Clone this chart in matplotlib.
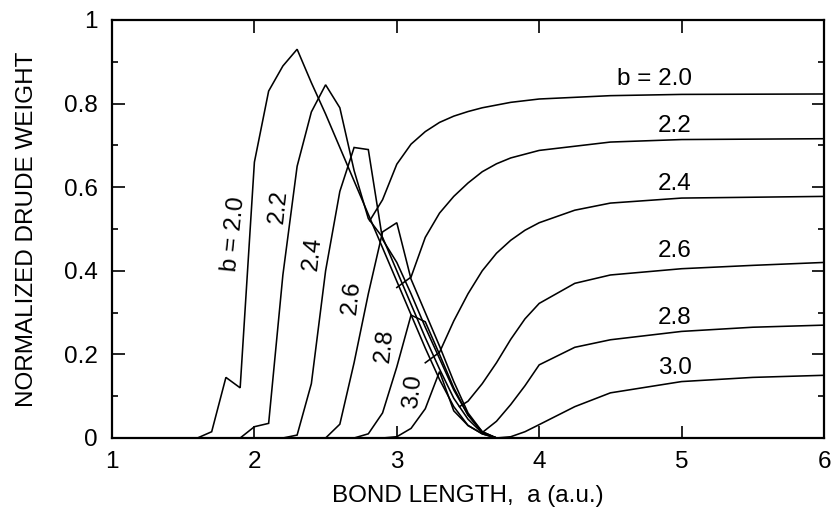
import matplotlib
matplotlib.use("Agg")
import matplotlib.pyplot as plt
from matplotlib.ticker import MultipleLocator

plt.rcParams['font.family'] = ['Liberation Sans', 'DejaVu Sans']

# ---- data: left branches (rise, peak, descent) ----
a_L20 = [1.0, 1.6, 1.7, 1.8, 1.9, 2.0, 2.1, 2.2, 2.3, 2.4, 2.5, 2.6, 2.7, 2.8, 2.9, 3.0, 3.1, 3.2, 3.3, 3.4, 3.5, 3.6, 3.7]
y_L20 = [0.0, 0.0, 0.015, 0.145, 0.12, 0.66, 0.83, 0.89, 0.93, 0.85, 0.775, 0.695, 0.615, 0.535, 0.455, 0.375, 0.295, 0.215, 0.14, 0.075, 0.03, 0.01, 0.0]

a_L22 = [1.0, 1.9, 2.0, 2.1, 2.2, 2.3, 2.4, 2.5, 2.6, 2.7, 2.8, 2.9, 3.0, 3.1, 3.2, 3.3, 3.4, 3.5, 3.6, 3.7]
y_L22 = [0.0, 0.0, 0.027, 0.035, 0.39, 0.65, 0.78, 0.845, 0.79, 0.64, 0.525, 0.48, 0.40, 0.32, 0.24, 0.165, 0.095, 0.045, 0.012, 0.0]

a_L24 = [1.0, 2.2, 2.3, 2.4, 2.5, 2.6, 2.7, 2.8, 2.9, 3.0, 3.1, 3.2, 3.3, 3.4, 3.5, 3.6, 3.7]
y_L24 = [0.0, 0.0, 0.007, 0.13, 0.40, 0.59, 0.695, 0.69, 0.475, 0.42, 0.345, 0.265, 0.19, 0.115, 0.055, 0.015, 0.0]

a_L26 = [1.0, 2.5, 2.6, 2.7, 2.8, 2.9, 3.0, 3.1, 3.2, 3.3, 3.4, 3.5, 3.6, 3.7]
y_L26 = [0.0, 0.0, 0.033, 0.18, 0.345, 0.493, 0.515, 0.38, 0.30, 0.22, 0.135, 0.06, 0.015, 0.0]

a_L28 = [1.0, 2.7, 2.8, 2.9, 3.0, 3.1, 3.2, 3.3, 3.4, 3.5, 3.6, 3.7]
y_L28 = [0.0, 0.0, 0.01, 0.06, 0.17, 0.294, 0.278, 0.20, 0.12, 0.055, 0.013, 0.0]

a_L30 = [1.0, 2.9, 3.0, 3.1, 3.2, 3.3, 3.4, 3.5, 3.6, 3.7]
y_L30 = [0.0, 0.0, 0.003, 0.023, 0.07, 0.159, 0.065, 0.03, 0.01, 0.0]

# ---- data: right branches (rise to plateau) ----
a_R20 = [2.81, 2.9, 3.0, 3.1, 3.2, 3.3, 3.4, 3.5, 3.6, 3.8, 4.0, 4.5, 5.0, 6.0]
y_R20 = [0.52, 0.57, 0.655, 0.703, 0.733, 0.755, 0.770, 0.781, 0.790, 0.803, 0.811, 0.819, 0.822, 0.823]

a_R22 = [3.0, 3.1, 3.2, 3.3, 3.4, 3.5, 3.6, 3.7, 3.8, 4.0, 4.5, 5.0, 6.0]
y_R22 = [0.36, 0.385, 0.48, 0.538, 0.578, 0.610, 0.637, 0.656, 0.670, 0.688, 0.708, 0.714, 0.716]

a_R24 = [3.2, 3.3, 3.4, 3.5, 3.6, 3.7, 3.8, 3.9, 4.0, 4.25, 4.5, 5.0, 6.0]
y_R24 = [0.18, 0.205, 0.28, 0.345, 0.40, 0.442, 0.473, 0.497, 0.515, 0.545, 0.562, 0.574, 0.578]

a_R26 = [3.44, 3.5, 3.6, 3.7, 3.8, 3.9, 4.0, 4.25, 4.5, 5.0, 5.5, 6.0]
y_R26 = [0.075, 0.088, 0.13, 0.18, 0.236, 0.285, 0.322, 0.37, 0.39, 0.405, 0.413, 0.42]

a_R28 = [3.6, 3.7, 3.8, 3.9, 4.0, 4.25, 4.5, 5.0, 5.5, 6.0]
y_R28 = [0.013, 0.04, 0.08, 0.125, 0.175, 0.217, 0.235, 0.255, 0.265, 0.27]

a_R30 = [3.7, 3.8, 3.9, 4.0, 4.25, 4.5, 5.0, 5.5, 6.0]
y_R30 = [0.0, 0.003, 0.015, 0.032, 0.075, 0.108, 0.135, 0.145, 0.15]

left_labels = ["b = 2.0", "2.2", "2.4", "2.6", "2.8", "3.0"]
right_labels = ["b = 2.0", "2.2", "2.4", "2.6", "2.8", "3.0"]
x_ticks = [1, 2, 3, 4, 5, 6]
y_ticks = [0, 0.2, 0.4, 0.6, 0.8, 1]
y_tick_labels = ["0", "0.2", "0.4", "0.6", "0.8", "1"]

left_series = [(a_L20, y_L20), (a_L22, y_L22), (a_L24, y_L24),
               (a_L26, y_L26), (a_L28, y_L28), (a_L30, y_L30)]
right_series = [(a_R20, y_R20), (a_R22, y_R22), (a_R24, y_R24),
                (a_R26, y_R26), (a_R28, y_R28), (a_R30, y_R30)]

# label positions (data coords)
left_label_pos = [(1.857, 0.488), (2.173, 0.553), (2.41, 0.44),
                  (2.685, 0.335), (2.917, 0.222), (3.114, 0.112)]
right_label_pos = [(5.07, 0.859), (5.07, 0.746), (5.07, 0.608),
                   (5.07, 0.447), (5.07, 0.287), (5.07, 0.167)]

fig = plt.figure(figsize=(8.4, 5.16), dpi=100)
ax = fig.add_axes([112/840, 1-438/516, (824-112)/840, (438-20)/516])

for xs, ys in left_series + right_series:
    ax.plot(xs, ys, color='black', lw=1.15, solid_joinstyle='miter')

fs = 17.5
for (x, y), t in zip(left_label_pos, left_labels):
    ax.text(x, y, t, rotation=84, ha='center', va='center', fontsize=fs)
for (x, y), t in zip(right_label_pos, right_labels):
    ax.text(x, y, t, ha='right', va='center', fontsize=fs)

ax.set_xlim(1, 6)
ax.set_ylim(0, 1)
ax.set_xticks(x_ticks)
ax.set_xticklabels([str(v) for v in x_ticks])
ax.set_yticks(y_ticks)
ax.set_yticklabels(y_tick_labels)
ax.yaxis.set_minor_locator(MultipleLocator(0.1))
ax.tick_params(which='both', direction='in', top=True, right=True,
               labelsize=fs, width=1.2)
ax.tick_params(axis='x', which='major', length=9, pad=9)
ax.tick_params(axis='y', which='major', length=9, pad=10)
ax.tick_params(which='minor', length=4)
for s in ax.spines.values():
    s.set_linewidth(1.6)

ax.set_xlabel("BOND LENGTH,  a (a.u.)", fontsize=fs, labelpad=9)
ax.set_ylabel("NORMALIZED DRUDE WEIGHT", fontsize=fs, labelpad=19)

fig.savefig("out.png", dpi=100)
